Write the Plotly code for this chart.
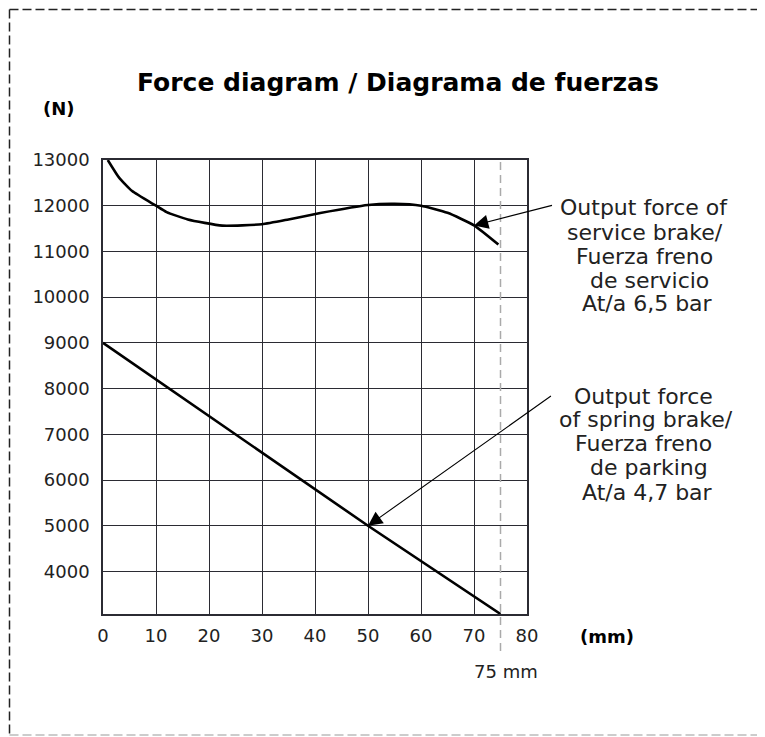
import plotly.graph_objects as go

# ---- data ----
service_travel_mm = [0.9, 3, 5.5, 10, 12, 16, 22.5, 30, 35, 41, 50, 55, 60, 65, 70, 74.6]
service_force_N = [13000, 12620, 12320, 12000, 11860, 11700, 11565, 11595, 11700, 11840,
                   12015, 12040, 12000, 11845, 11570, 11150]

spring_travel_mm = [0, 50, 75]
spring_force_N = [9000, 5000, 3070]

x_tick_vals = [0, 10, 20, 30, 40, 50, 60, 70, 80]
y_tick_vals = [4000, 5000, 6000, 7000, 8000, 9000, 10000, 11000, 12000, 13000]

stroke_mm = 75

service_label = ["Output force of", "service brake/", "Fuerza freno", " de servicio", "At/a 6,5 bar"]
spring_label = ["Output force", "of spring brake/", "Fuerza freno", " de parking", "At/a 4,7 bar"]

# ---- layout geometry (screen pixels; page body has an 8px margin) ----
OFF = 8
W, H = 765 - OFF, 737 - OFF
L, R, T, B = 103, 527, 160, 614   # plot area in screen pixels
FONT = "DejaVu Sans"
TXT = "#222222"
GRID = "#2b2b33"


def px(xp):
    return (xp - L) / (R - L)


def py(yp):
    return (B - yp) / (B - T)


fig = go.Figure()
fig.add_trace(go.Scatter(x=service_travel_mm, y=service_force_N, mode="lines",
                         line=dict(color="black", width=2.6, shape="spline", smoothing=0.5),
                         hoverinfo="skip"))
fig.add_trace(go.Scatter(x=spring_travel_mm, y=spring_force_N, mode="lines",
                         line=dict(color="black", width=2.6), hoverinfo="skip"))

axis_common = dict(showgrid=True, gridcolor=GRID, gridwidth=1.3, showline=True,
                   linecolor=GRID, linewidth=1.5, mirror=True, zeroline=False,
                   ticks="outside", tickcolor="rgba(0,0,0,0)",
                   tickfont=dict(family=FONT, size=18, color=TXT), fixedrange=True)

fig.update_layout(
    width=W, height=H, autosize=False,
    margin=dict(l=L - OFF, r=765 - R, t=T - OFF, b=737 - B, pad=0),
    paper_bgcolor="white", plot_bgcolor="white", showlegend=False,
    xaxis=dict(range=[0, 80], tickvals=x_tick_vals, ticktext=[str(v) for v in x_tick_vals],
               ticklen=5, **axis_common),
    yaxis=dict(range=[3070, 13000], tickvals=y_tick_vals, ticktext=[str(v) for v in y_tick_vals],
               ticklen=8, **axis_common),
)

shapes = []
# 75 mm dashed marker
shapes.append(dict(type="line", xref="x", yref="paper", x0=stroke_mm, x1=stroke_mm,
                   y0=py(651), y1=1, line=dict(color="#aaaaaa", width=1.5, dash="8px,5px"),
                   layer="above"))
# dashed frame
shapes.append(dict(type="line", xref="paper", yref="paper", x0=px(9.5), x1=px(9.5),
                   y0=py(9.5), y1=py(736), line=dict(color="#222222", width=1.5, dash="9px,4px")))
shapes.append(dict(type="line", xref="paper", yref="paper", x0=px(9.5), x1=px(764),
                   y0=py(9.5), y1=py(9.5), line=dict(color="#222222", width=1.5, dash="9px,4px")))
shapes.append(dict(type="line", xref="paper", yref="paper", x0=px(9.5), x1=px(764),
                   y0=py(735), y1=py(735), line=dict(color="#999999", width=1.2, dash="9px,4px")))
fig.update_layout(shapes=shapes)

ann = []
ann.append(dict(text="<b>Force diagram / Diagrama de fuerzas</b>", xref="paper", yref="paper",
                x=px(397.5), y=py(83), xanchor="center", yanchor="middle", showarrow=False,
                font=dict(family=FONT, size=25, color="black")))
ann.append(dict(text="<b>(N)</b>", xref="paper", yref="paper", x=px(59), y=py(108),
                xanchor="center", yanchor="middle", showarrow=False,
                font=dict(family=FONT, size=18, color="black")))
ann.append(dict(text="<b>(mm)</b>", xref="paper", yref="paper", x=px(607), y=py(636),
                xanchor="center", yanchor="middle", showarrow=False,
                font=dict(family=FONT, size=18, color="black")))
ann.append(dict(text="75 mm", xref="paper", yref="paper", x=px(506), y=py(671),
                xanchor="center", yanchor="middle", showarrow=False,
                font=dict(family=FONT, size=18, color=TXT)))

for (cx, cy), line in zip([(644, 207), (645, 232), (644, 256), (646, 280), (647, 303)], service_label):
    ann.append(dict(text=line, xref="paper", yref="paper", x=px(cx), y=py(cy),
                    xanchor="center", yanchor="middle", showarrow=False,
                    font=dict(family=FONT, size=22, color=TXT)))
for (cx, cy), line in zip([(643, 396), (646, 419), (643, 443), (645, 467), (647, 492)], spring_label):
    ann.append(dict(text=line, xref="paper", yref="paper", x=px(cx), y=py(cy),
                    xanchor="center", yanchor="middle", showarrow=False,
                    font=dict(family=FONT, size=22, color=TXT)))

# arrows
ann.append(dict(text="", x=70, y=11570, xref="x", yref="y", ax=85, ay=12016,
                axref="x", ayref="y", showarrow=True, arrowhead=2, arrowsize=2.6,
                arrowwidth=1.1, arrowcolor="black", standoff=0, startstandoff=0))
ann.append(dict(text="", x=50, y=5000, xref="x", yref="y", ax=84.8, ay=7860,
                axref="x", ayref="y", showarrow=True, arrowhead=2, arrowsize=2.6,
                arrowwidth=1.1, arrowcolor="black", standoff=0, startstandoff=0))
fig.update_layout(annotations=ann)

fig.write_html("out.html")
